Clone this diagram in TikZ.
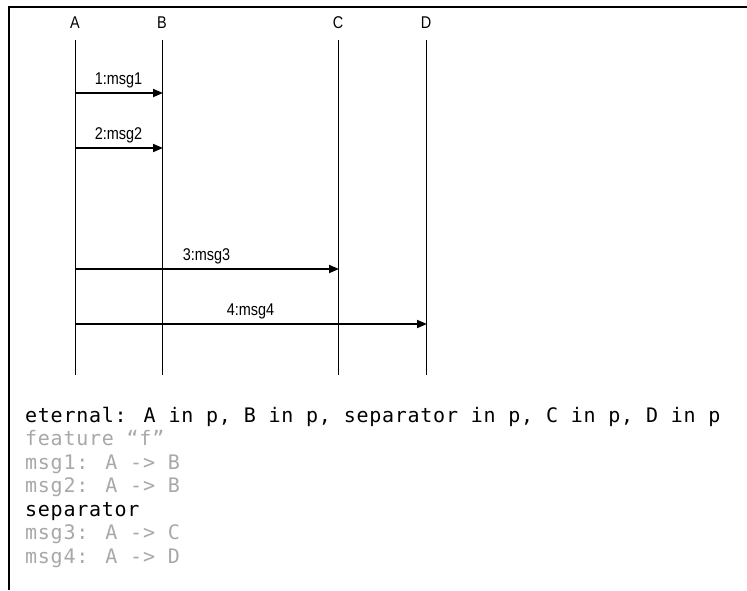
\documentclass[tikz,border=0pt]{standalone}
\usepackage{fontspec}
\setmainfont{Liberation Sans}
\newfontfamily\lblfont[FakeStretch=0.85]{Liberation Sans}
\newfontfamily\codefont[LetterSpace=3.7]{DejaVu Sans Mono}
\usetikzlibrary{arrows.meta}
\definecolor{codegray}{RGB}{168,168,168}
\tikzset{
  head/.style={font=\lblfont\fontsize{17}{19}\selectfont, inner sep=0pt},
  lifeline/.style={line width=0.9pt},
  msgarrow/.style={line width=1.8pt, -{Triangle[length=10pt,width=8pt]}, shorten >=-1pt},
  msglabel/.style={font=\lblfont\fontsize{17}{19}\selectfont, inner sep=0pt, anchor=base},
  codeline/.style={font=\codefont\fontsize{20}{22}\selectfont, inner sep=0pt, anchor=base west},
  frame/.style={line width=2pt}
}
\begin{document}
\begin{tikzpicture}[x=1pt,y=-1pt]
\useasboundingbox (0,0) rectangle (747,590);
% frame
\coordinate (ftl) at (9,7);
\coordinate (ftr) at (747,7);
\coordinate (fbl) at (9,590);
\draw[frame] (ftr) -- (ftl) -- (fbl);
% heads
\node[head] (A) at (75,23) {A};
\node[head] (B) at (162,23) {B};
\node[head] (C) at (338,23) {C};
\node[head] (D) at (426,23) {D};
% lifelines
\foreach \n/\x in {A/75,B/162,C/338,D/426}{
  \coordinate (\n-top) at (\x,40);
  \coordinate (\n-bot) at (\x,375);
  \coordinate (\n-m1) at (\x,93);
  \coordinate (\n-m2) at (\x,148);
  \coordinate (\n-m3) at (\x,269);
  \coordinate (\n-m4) at (\x,324);
  \draw[lifeline] (\n-top) -- (\n-bot);
}
% messages
\draw[msgarrow] (A-m1) -- node[msglabel, above=9pt, anchor=base] (l1) {1:msg1} (B-m1);
\draw[msgarrow] (A-m2) -- node[msglabel, above=9pt, anchor=base] (l2) {2:msg2} (B-m2);
\draw[msgarrow] (A-m3) -- node[msglabel, above=9pt, anchor=base] (l3) {3:msg3} (C-m3);
\draw[msgarrow] (A-m4) -- node[msglabel, above=9pt, anchor=base] (l4) {4:msg4} (D-m4);
% code text
\node[codeline] (t1) at (25,422) {eternal: A in p, B in p, separator in p, C in p, D in p};
\node[codeline, text=codegray] (t2) at (25,445.5) {feature “f”};
\node[codeline, text=codegray] (t3) at (25,469) {msg1: A -> B};
\node[codeline, text=codegray] (t4) at (25,492.5) {msg2: A -> B};
\node[codeline] (t5) at (25,516) {separator};
\node[codeline, text=codegray] (t6) at (25,539.5) {msg3: A -> C};
\node[codeline, text=codegray] (t7) at (25,563) {msg4: A -> D};
\end{tikzpicture}
\end{document}
